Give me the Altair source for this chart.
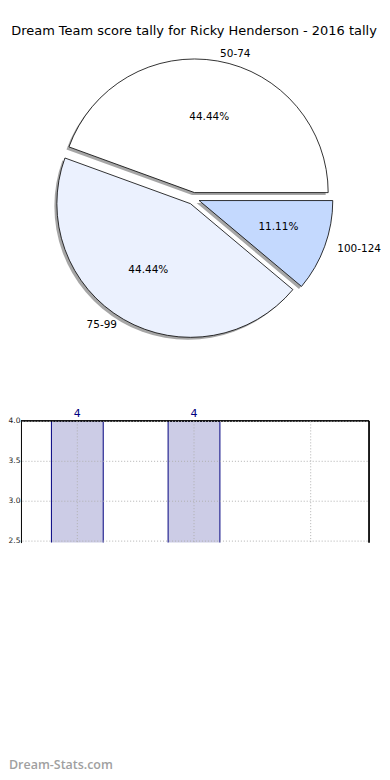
import altair as alt
import pandas as pd

# ---- data ----
labels = ["50-74", "75-99", "100-124"]
counts = [4, 4, 1]
title_text = ["Dream Team score tally for Ricky Henderson - 2016 tally"]
watermark_text = ["Dream-Stats.com"]
y_ticks = [2.5, 3.0, 3.5, 4.0]

# ---- style ----
slice_colors = ["#ffffff", "#ebf1fe", "#c4d9fe"]
FONT = "DejaVu Sans"
OX = 21                               # expected page x of the plot origin
CX, CY, R, D = 194 - OX, 190, 134, 6  # pie centre / radius / explode (px)
RX, RY = 134, 128                     # label placement radii
PW, PH = 381 - OX, 400                # pie panel
BW, BH = 370 - OX, 122                # bar panel

df = pd.DataFrame({"label": labels, "count": counts})

base = (
    alt.Chart(df)
    .transform_joinaggregate(total="sum(count)")
    .transform_window(cum="sum(count)")
    .transform_calculate(
        a0="2.5*PI - 2*PI*(datum.cum - datum.count)/datum.total",
        a1="2.5*PI - 2*PI*datum.cum/datum.total",
    )
    .transform_calculate(mid="(datum.a0 + datum.a1)/2")
    .transform_calculate(
        cx=f"{CX} + {D}*sin(datum.mid)",
        cy=f"{CY} - {D}*cos(datum.mid)",
    )
    .transform_calculate(
        sx="datum.cx - 2.5",
        sy="datum.cy + 2.5",
        lx=f"datum.cx + {1.1 * RX}*sin(datum.mid)",
        ly=f"datum.cy - {1.1 * RY}*cos(datum.mid)",
        px=f"datum.cx + {0.6 * 141}*sin(datum.mid)",
        py=f"datum.cy - {0.6 * RY}*cos(datum.mid)",
        pct="format(datum.count/datum.total*100, '.2f') + '%'",
    )
)

shadow = base.mark_arc(outerRadius=R, fill="#4d4d4d", opacity=0.5).encode(
    x=alt.X("sx:Q", scale=None),
    y=alt.Y("sy:Q", scale=None),
    theta=alt.Theta("a0:Q", scale=None, stack=False),
    theta2="a1:Q",
)

slices = base.mark_arc(outerRadius=R, stroke="black", strokeWidth=0.8).encode(
    x=alt.X("cx:Q", scale=None),
    y=alt.Y("cy:Q", scale=None),
    theta=alt.Theta("a0:Q", scale=None, stack=False),
    theta2="a1:Q",
    color=alt.Color("label:N", scale=alt.Scale(domain=labels, range=slice_colors), legend=None),
)

lab_left = base.transform_filter("sin(datum.mid) > 0").mark_text(
    align="left", baseline="middle", fontSize=10.5, font=FONT, color="black"
).encode(x=alt.X("lx:Q", scale=None), y=alt.Y("ly:Q", scale=None), text="label:N")

lab_right = base.transform_filter("sin(datum.mid) <= 0").mark_text(
    align="right", baseline="middle", fontSize=10.5, font=FONT, color="black"
).encode(x=alt.X("lx:Q", scale=None), y=alt.Y("ly:Q", scale=None), text="label:N")

pct = base.mark_text(
    align="center", baseline="middle", fontSize=10.5, font=FONT, color="black"
).encode(x=alt.X("px:Q", scale=None), y=alt.Y("py:Q", scale=None), text="pct:N")

title = alt.Chart(pd.DataFrame({"t": title_text})).mark_text(
    align="center", baseline="middle", fontSize=13, font=FONT, color="black"
).encode(x=alt.value(194.5 - OX), y=alt.value(22), text="t:N")

pie = alt.layer(shadow, slices, lab_left, lab_right, pct, title).properties(width=PW, height=PH)

# ---- bar panel ----
grid_kw = dict(grid=True, gridDash=[1, 2], gridColor="#b0b0b0", gridWidth=1)

bars = alt.Chart(df).mark_bar(fill="#ccccE6", stroke="#000080", strokeWidth=1, clip=True).encode(
    x=alt.X(
        "label:N",
        sort=labels,
        scale=alt.Scale(paddingInner=0.556, paddingOuter=0.278, range=[19 - OX, BW]),
        axis=alt.Axis(labels=False, ticks=False, domain=False, title=None, zindex=1, **grid_kw),
    ),
    y=alt.Y(
        "count:Q",
        scale=alt.Scale(domain=[2.475, 4.0], nice=False, zero=False),
        axis=alt.Axis(
            values=y_ticks, format=".1f", ticks=False, labelFontSize=7.5, labelPadding=1,
            labelFont=FONT, labelColor="#222222", domainColor="black", title=None, zindex=1, **grid_kw
        ),
    ),
)

bar_text = alt.Chart(df).transform_filter("datum.count >= 2.475").mark_text(
    baseline="bottom", dy=-2, fontSize=11, font=FONT, color="#000080"
).encode(x=alt.X("label:N", sort=labels), y=alt.Y("count:Q"), text="count:Q")

top_rule = alt.Chart(df).mark_rule(color="black", strokeWidth=1).encode(
    x=alt.value(0), x2=alt.value(BW), y=alt.value(0)
)
right_rule = alt.Chart(df).mark_rule(color="black", strokeWidth=1).encode(
    x=alt.value(BW), y=alt.value(0), y2=alt.value(BH)
)

wm = alt.Chart(pd.DataFrame({"t": watermark_text})).mark_text(
    align="left", baseline="middle", fontSize=12.5, font="Open Sans", fontWeight=600, color="#a0a0a0"
).encode(x=alt.value(-12), y=alt.value(345), text="t:N")

barpanel = alt.layer(bars, bar_text, top_rule, right_rule, wm).properties(width=BW, height=BH)

chart = (
    alt.vconcat(pie, barpanel, spacing=0)
    .properties(padding=0, background="white")
    .configure_view(strokeWidth=0)
)

chart.save("out.html", embed_options={"renderer": "svg", "actions": False})
